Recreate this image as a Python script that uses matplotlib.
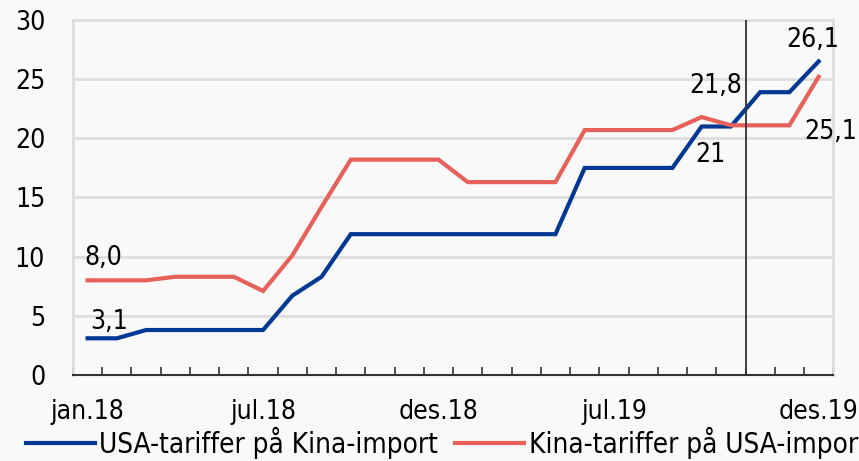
import numpy as np
import matplotlib.pyplot as plt

plt.rcParams['font.family'] = ['DejaVu Sans']
plt.rcParams['font.stretch'] = 'condensed'

# 26 observations, labelled every sixth or so
usa = [3.1, 3.1, 3.8, 3.8, 3.8, 3.8, 3.8, 6.7, 8.3, 11.9, 11.9, 11.9, 11.9,
       11.9, 11.9, 11.9, 11.9, 17.5, 17.5, 17.5, 17.5, 21.0, 21.0, 23.9, 23.9, 26.5]
kina = [8.0, 8.0, 8.0, 8.3, 8.3, 8.3, 7.1, 10.1, 14.2, 18.2, 18.2, 18.2, 18.2,
        16.3, 16.3, 16.3, 16.3, 20.7, 20.7, 20.7, 20.7, 21.8, 21.1, 21.1, 21.1, 25.2]
tick_pos = [0, 6, 12, 18, 25]
tick_lab = ['jan.18', 'jul.18', 'des.18', 'jul.19', 'des.19']

blue = '#003893'; red = '#E8605A'; bg = '#f9f9f9'; grid = '#dedede'
fs = 19

fig = plt.figure(figsize=(8.59, 4.61), dpi=100, facecolor=bg)
ax = fig.add_axes([0.085, 0.1866, 0.885, 0.77], facecolor=bg)

x = np.arange(len(usa))
ax.plot(x, usa, color=blue, lw=3, solid_joinstyle='miter', label='USA-tariffer på Kina-import', zorder=3)
ax.plot(x, kina, color=red, lw=3, solid_joinstyle='miter', label='Kina-tariffer på USA-import', zorder=3)

ax.set_xlim(-0.5, len(usa) - 0.5)
ax.set_ylim(0, 30)
ax.set_yticks(range(0, 31, 5))
ax.yaxis.grid(True, color=grid, lw=2)
ax.set_axisbelow(True)
for s in ['left', 'top', 'right']:
    ax.spines[s].set_color(grid); ax.spines[s].set_linewidth(2)
ax.spines['bottom'].set_color('#333333'); ax.spines['bottom'].set_linewidth(1.5)
ax.tick_params(axis='y', length=0, pad=20, labelsize=fs)
ax.set_xticks(np.arange(-0.5, len(usa) + 0.5, 1), minor=True)
ax.set_xticks(tick_pos)
ax.set_xticklabels(tick_lab)
ax.tick_params(axis='x', which='major', length=0, pad=17, labelsize=fs)
ax.tick_params(axis='x', which='minor', direction='in', length=6, width=1.2, color='#333333')

ax.axvline(22.5, color='#333333', lw=1.3, zorder=4)

ax.text(0.1, 3.4, '3,1', fontsize=fs, ha='left', va='bottom')
ax.text(-0.1, 8.8, '8,0', fontsize=fs, ha='left', va='bottom')
ax.text(22.4, 24.4, '21,8', fontsize=fs, ha='right', va='center')
ax.text(21.3, 18.6, '21', fontsize=fs, ha='center', va='center')
ax.text(25.7, 28.3, '26,1', fontsize=fs, ha='right', va='center')
ax.text(24.5, 20.5, '25,1', fontsize=fs, ha='left', va='center')

fig.legend(loc='lower left', bbox_to_anchor=(0.03, 0.004), ncol=2, frameon=False,
           fontsize=20, handlelength=2.5, handletextpad=0.15, columnspacing=0.6,
           borderpad=0, borderaxespad=0)

fig.savefig('out.png', dpi=100, facecolor=bg)
